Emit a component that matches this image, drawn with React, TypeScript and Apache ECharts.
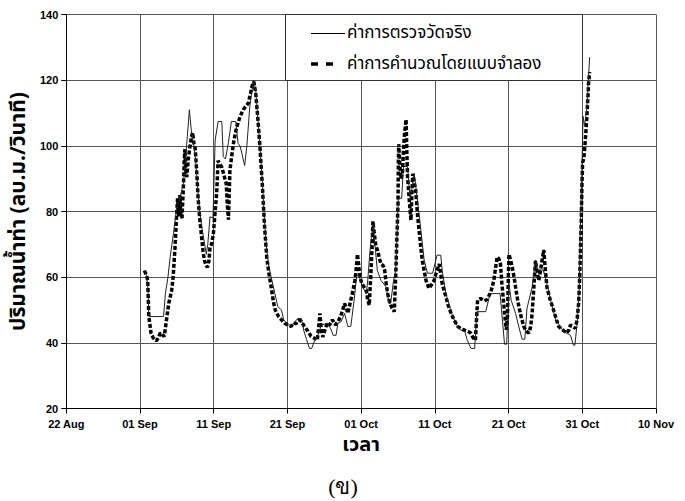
import React, { useEffect, useRef } from "react";
import * as echarts from "echarts";

// x = days since 22 Aug
const tickLabels = ["22 Aug", "01 Sep", "11 Sep", "21 Sep", "01 Oct", "11 Oct", "21 Oct", "31 Oct", "10 Nov"];

const obsDay = [
  10.6, 10.9, 11.1, 11.2, 13.2, 13.45, 13.8, 14.1, 14.55, 15.0, 15.4, 15.9, 16.35, 16.7, 17.0, 17.25, 17.5, 17.8, 18.1, 18.4, 18.7, 19.0, 19.2, 19.5, 19.9,
  20.2, 20.6, 21.1, 21.3, 21.6, 22.0, 22.4, 23.0, 23.3, 23.6, 24.2, 24.5, 24.9, 25.2, 25.45, 25.7, 26.0, 26.3, 26.6, 26.9, 27.2, 27.5, 27.8, 28.3, 28.7,
  29.2, 29.5, 30.1, 30.6, 31.4, 31.9, 32.2, 32.6, 33.0, 33.3, 33.7, 34.05, 34.6, 35.5, 35.95, 36.2, 36.6, 36.85, 37.3, 37.75, 38.2, 38.6, 39.05, 39.4, 39.7,
  40.2, 40.7, 40.9, 41.2, 41.6, 42.2, 42.7, 43.4, 43.8, 44.0, 44.4, 44.7, 45.05, 45.5, 45.75, 46.3, 46.65, 47.2, 47.9, 48.55, 49.0, 49.7, 50.3, 50.8, 51.0,
  51.5, 52.2, 52.8, 53.5, 54.05, 54.4, 54.9, 55.4, 55.7, 56.9, 57.5, 58.85, 59.45, 59.75, 60.05, 60.35, 60.95, 61.5, 61.85, 62.2, 62.5, 63.2, 63.65, 63.95,
  64.7, 65.2, 65.7, 66.4, 67.5, 68.4, 68.8, 69.0, 69.35, 69.6, 69.7, 69.96, 70.1, 70.3, 70.6, 71.0,
];
const obsFlow = [
  62, 60.5, 56, 48, 48, 55, 60.1, 66.2, 73.4, 81.5, 84, 88.6, 100.8, 111, 103.8, 101, 97, 88, 80, 75, 71, 67, 70, 78.4, 78,
  101.8, 107.4, 107.4, 96.7, 96, 101, 107.4, 107.4, 100.8, 99.8, 94, 100, 112, 117, 120, 117, 108, 99, 89, 77, 68, 63, 60, 55, 51,
  50, 47, 45.4, 45.4, 47.4, 47.4, 43.9, 41, 38.3, 38.3, 40.8, 41.8, 45.4, 46, 43.9, 42.3, 42.3, 46, 46.5, 49, 45, 45, 53, 60.6, 60.6,
  57, 55, 59.1, 68, 76.4, 62, 59, 57, 52, 52, 59, 62.2, 84, 84, 93.7, 93.7, 83.5, 91.6, 78.4, 65.2, 61.2, 61.2, 66.7, 66.7, 62,
  55, 49.5, 46, 43.9, 43.5, 40.8, 38.3, 38.3, 49.5, 49.5, 55, 55, 39.6, 39.6, 58.1, 53, 49, 43.9, 41.1, 41.1, 50.5, 57, 65.2, 62.2,
  62.2, 58, 53, 47, 43.4, 42.3, 39.3, 39.3, 47, 57, 71.3, 93.7, 109, 106, 111, 127,
];

const simDay = [
  10.6, 10.9, 11.05, 11.2, 11.5, 11.8, 12.2, 12.5, 12.75, 13.0, 13.3, 13.6, 13.9, 14.1, 14.3, 14.5, 14.75, 15.0, 15.1, 15.25, 15.4, 15.55, 15.7, 15.9, 16.0,
  16.1, 16.2, 16.35, 16.55, 16.8, 17.0, 17.15, 17.3, 17.5, 17.7, 17.9, 18.1, 18.3, 18.55, 18.75, 19.0, 19.15, 19.35, 19.5, 19.7, 19.95, 20.2, 20.4, 20.6, 20.8,
  21.1, 21.4, 21.7, 21.85, 22.0, 22.1, 22.2, 22.45, 22.7, 23.0, 23.3, 23.6, 24.0, 24.35, 24.7, 25.0, 25.25, 25.45, 25.7, 26.0, 26.25, 26.6, 26.9, 27.2, 27.5,
  27.8, 28.1, 28.35, 28.8, 29.2, 29.6, 30.1, 30.5, 30.8, 31.2, 31.6, 31.9, 32.3, 32.8, 33.2, 33.6, 34.05, 34.3, 34.4, 34.6, 34.8, 35.1, 35.4, 35.7, 36.1,
  36.5, 36.85, 37.2, 37.5, 37.75, 38.0, 38.2, 38.5, 38.9, 39.15, 39.3, 39.5, 39.65, 39.85, 40.1, 40.4, 40.7, 40.9, 41.1, 41.3, 41.5, 41.6, 41.75, 42.0, 42.25,
  42.5, 42.7, 43.0, 43.2, 43.4, 43.6, 43.85, 44.1, 44.5, 44.7, 44.85, 45.0, 45.05, 45.1, 45.25, 45.4, 45.6, 45.75, 45.9, 46.1, 46.2, 46.3, 46.5, 46.65, 46.76,
  46.9, 47.0, 47.2, 47.4, 47.65, 47.9, 48.1, 48.3, 48.55, 48.8, 49.2, 49.5, 49.9, 50.2, 50.6, 50.8, 51.0, 51.25, 51.5, 51.8, 52.2, 52.6, 53.1, 53.6, 54.0,
  54.5, 54.9, 55.2, 55.5, 55.7, 55.8, 56.2, 56.7, 57.1, 57.6, 58.0, 58.25, 58.45, 58.7, 58.9, 59.1, 59.3, 59.5, 59.7, 59.85, 59.95, 60.05, 60.3, 60.5, 60.75,
  60.95, 61.2, 61.4, 61.75, 62.07, 62.4, 62.75, 63.0, 63.2, 63.4, 63.65, 63.85, 64.1, 64.4, 64.77, 65.0, 65.2, 65.6, 66.1, 66.5, 66.8, 67.3, 67.9, 68.2, 68.4,
  68.7, 69.05, 69.3, 69.5, 69.65, 69.75, 69.85, 69.95, 70.05, 70.2, 70.3, 70.45, 70.6, 70.75, 70.85, 71.0,
];
const simFlow = [
  62, 60.5, 59, 48, 43, 41.5, 40.6, 41.5, 43, 42.5, 42, 47, 52, 54, 56, 60, 69, 80, 84, 78.5, 85, 79, 78, 88, 95,
  99, 92, 90.5, 96, 100, 103, 104, 101, 99, 92, 83.5, 78, 73.5, 68, 65, 63.5, 63, 65, 69, 70, 73, 80, 85.5, 95.5, 94.5,
  93.5, 91, 88.5, 82, 77.5, 85, 92.5, 97, 101, 104.5, 107, 109, 111, 112, 113, 116, 118.5, 119.5, 116, 108, 100.5, 88, 75.5, 66, 61,
  57, 52.5, 50, 48, 47, 46, 45.4, 45, 46, 45.9, 47, 46.5, 45, 43.5, 42, 41.5, 40.8, 46, 49, 44, 41.8, 44, 46, 45.4, 47,
  45.5, 46.4, 48, 50, 52, 50.5, 49, 52, 56, 59, 61.5, 67, 64, 60, 58, 57, 56, 53, 51.5, 60, 70, 77, 74, 69.5, 68,
  65.5, 64, 63.5, 62, 58, 55, 52.5, 51, 49.5, 61, 72, 82, 95, 100.5, 94, 90, 91.5, 99, 104, 108, 98, 90.5, 84.5, 80, 77.4,
  86, 91.5, 89, 86.5, 79, 73.4, 69, 65, 62, 59, 56.6, 57.5, 59, 61.5, 64, 61, 58, 56, 54, 51.5, 49, 47, 45, 44.2, 43.9,
  43.5, 42.9, 41.5, 40.8, 49, 53, 53.5, 52.8, 53.2, 55.5, 59, 63, 66.2, 65.5, 64, 58, 53, 48, 44, 48, 58, 67, 65, 63, 60,
  57, 53.5, 51, 47.5, 45, 43.5, 43, 45, 49, 56, 65, 62, 59, 63, 68.3, 62, 57, 53.5, 50, 47, 45, 44, 43, 44, 45.4,
  45, 44.4, 47, 52, 60, 68, 76, 88, 95, 96, 98.5, 103, 108, 114, 119, 122.5,
];

const obsName = "ค่าการตรวจวัดจริง";
const simName = "ค่าการคำนวณโดยแบบจำลอง";
const yName = "ปริมาณน้ำท่า (ลบ.ม./วินาที)";
const xName = "เวลา";
const caption = "(ข)";

const thaiFont = "'Noto Sans Thai', 'Noto Sans', 'DejaVu Sans', sans-serif";
const tickFont = "'Liberation Sans', Arial, sans-serif";

export default function App() {
  const ref = useRef<HTMLDivElement>(null);
  useEffect(() => {
    if (!ref.current) return;
    const chart = echarts.init(ref.current, undefined, { renderer: "svg" });
    const obsData = obsDay.map((d, i) => [d, obsFlow[i]]);
    const simData = simDay.map((d, i) => [d, simFlow[i]]);
    chart.setOption({
      animation: false,
      backgroundColor: "#ffffff",
      grid: { left: 64, right: 29, top: 14.5, bottom: 92.5, containLabel: false },
      xAxis: {
        type: "value",
        min: 0,
        max: 80,
        interval: 10,
        name: xName,
        nameLocation: "middle",
        nameGap: 26,
        nameTextStyle: { fontFamily: thaiFont, fontWeight: "bold", fontSize: 20, color: "#000" },
        axisLine: { show: true, lineStyle: { color: "#000", width: 1 } },
        axisTick: { show: true, length: 5, lineStyle: { color: "#000" } },
        axisLabel: {
          formatter: (v: number) => tickLabels[Math.round(v / 10)] ?? "",
          fontFamily: tickFont,
          fontWeight: "bold",
          fontSize: 11,
          color: "#000",
          margin: 10,
        },
        splitLine: { show: true, lineStyle: { color: "#555", width: 1 } },
      },
      yAxis: {
        type: "value",
        min: 20,
        max: 140,
        interval: 20,
        name: yName,
        nameLocation: "middle",
        nameGap: 27,
        nameRotate: 90,
        nameTextStyle: { fontFamily: thaiFont, fontWeight: "bold", fontSize: 21, color: "#000" },
        axisLine: { show: true, lineStyle: { color: "#000", width: 1 } },
        axisTick: { show: true, length: 5, lineStyle: { color: "#000" } },
        axisLabel: { fontFamily: tickFont, fontWeight: "bold", fontSize: 11, color: "#000", margin: 8 },
        splitLine: { show: true, lineStyle: { color: "#555", width: 1 } },
      },
      series: [
        {
          name: simName,
          type: "line",
          data: simData,
          showSymbol: false,
          symbol: "none",
          z: 2,
          lineStyle: { color: "#000", width: 3.5, type: [4, 2] },
        },
        {
          name: obsName,
          type: "line",
          data: obsData,
          showSymbol: false,
          symbol: "none",
          z: 3,
          lineStyle: { color: "#222", width: 1 },
        },
      ],
      graphic: [
        {
          type: "rect",
          z: 100,
          shape: { x: 285.5, y: 14.5, width: 297, height: 66 },
          style: { fill: "#fff", stroke: "#333", lineWidth: 1 },
        },
        {
          type: "line",
          z: 101,
          shape: { x1: 311, y1: 33.5, x2: 345, y2: 33.5 },
          style: { stroke: "#000", lineWidth: 1 },
        },
        {
          type: "line",
          z: 101,
          shape: { x1: 311, y1: 64, x2: 334, y2: 64 },
          style: { stroke: "#000", lineWidth: 3.5, lineDash: [7, 8] },
        },
        {
          type: "text",
          z: 101,
          x: 347,
          y: 33,
          style: { text: obsName, fontFamily: thaiFont, fontSize: 17, fill: "#000", verticalAlign: "middle", align: "left" },
        },
        {
          type: "text",
          z: 101,
          x: 347,
          y: 64,
          style: { text: simName, fontFamily: thaiFont, fontSize: 17, fill: "#000", verticalAlign: "middle", align: "left" },
        },
        {
          type: "text",
          z: 101,
          x: 343,
          y: 486,
          style: { text: caption, fontFamily: "'Liberation Serif', 'DejaVu Serif', serif", fontSize: 22, fill: "#000", verticalAlign: "middle", align: "center" },
        },
      ],
    });
    return () => chart.dispose();
  }, []);
  return <div ref={ref} style={{ width: 685, height: 501, position: "absolute", left: 0, top: 0 }} />;
}
